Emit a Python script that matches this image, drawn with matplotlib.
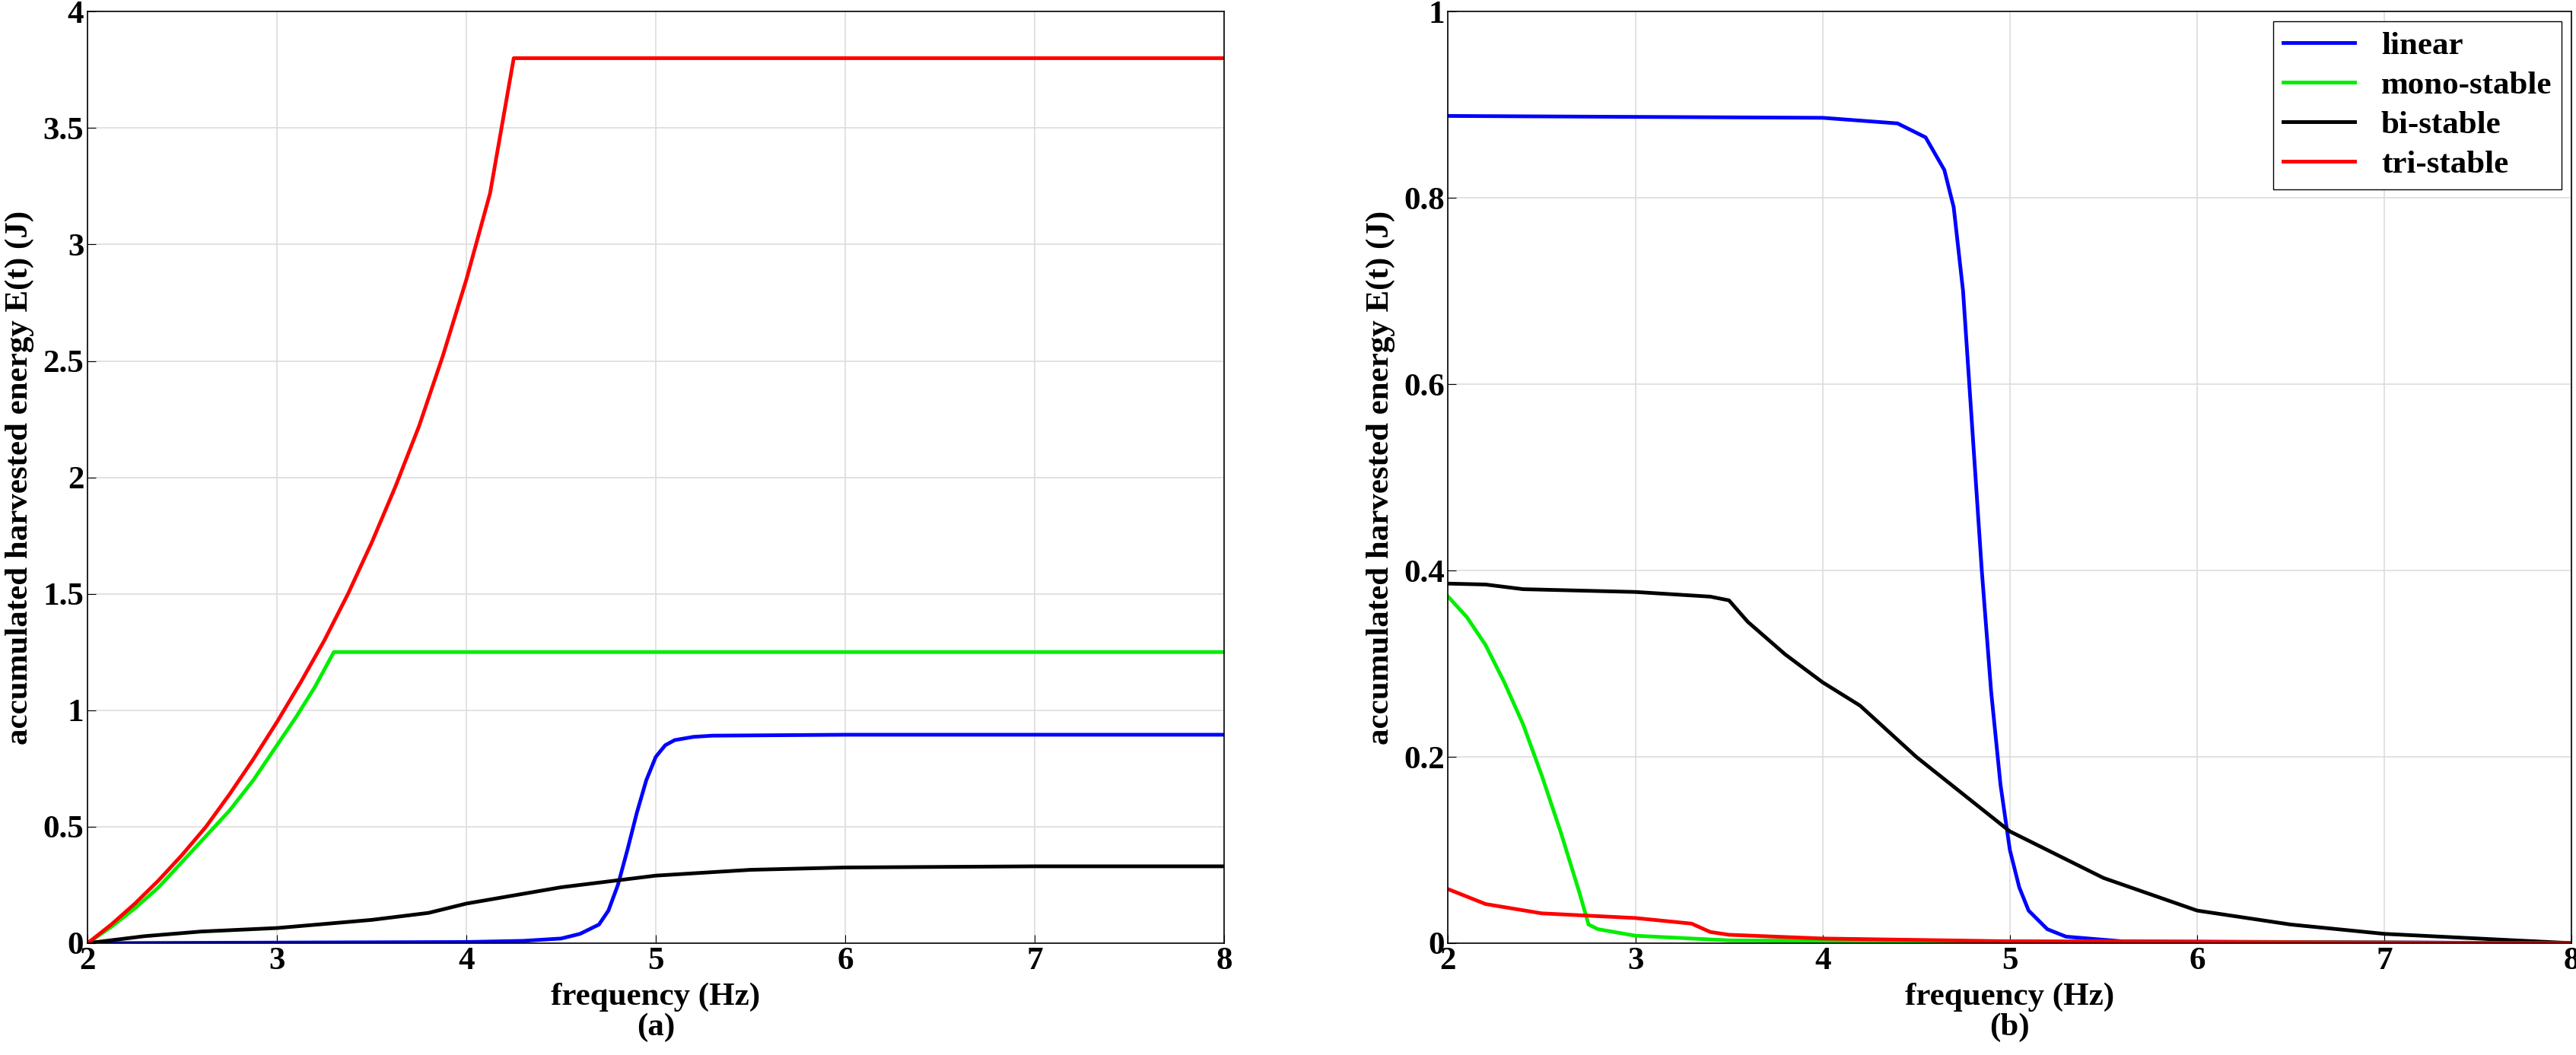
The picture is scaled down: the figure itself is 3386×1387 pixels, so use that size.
import numpy as np
import matplotlib.pyplot as plt

plt.rcParams['font.family'] = ['Liberation Serif', 'DejaVu Serif']
plt.rcParams['font.weight'] = 'bold'

# panel (a) data
fa_red = [2, 2.125, 2.25, 2.375, 2.5, 2.625, 2.75, 2.875, 3, 3.125, 3.25, 3.375, 3.5, 3.625, 3.75, 3.875, 4, 4.125, 4.25, 8]
ea_red = [0, 0.08, 0.17, 0.27, 0.38, 0.5, 0.64, 0.79, 0.95, 1.12, 1.3, 1.5, 1.72, 1.96, 2.22, 2.52, 2.85, 3.22, 3.8, 3.8]
fa_green = [2, 2.125, 2.25, 2.375, 2.5, 2.625, 2.75, 2.875, 3, 3.1, 3.2, 3.3, 8]
ea_green = [0, 0.07, 0.15, 0.24, 0.35, 0.46, 0.57, 0.7, 0.85, 0.97, 1.1, 1.25, 1.25]
fa_blue = [2, 4, 4.3, 4.5, 4.6, 4.7, 4.75, 4.8, 4.85, 4.9, 4.95, 5.0, 5.05, 5.1, 5.2, 5.3, 6, 8]
ea_blue = [0, 0.005, 0.01, 0.02, 0.04, 0.08, 0.14, 0.25, 0.4, 0.56, 0.7, 0.8, 0.85, 0.872, 0.886, 0.891, 0.895, 0.895]
fa_black = [2, 2.3, 2.6, 3, 3.5, 3.8, 4, 4.5, 5, 5.5, 6, 7, 8]
ea_black = [0, 0.03, 0.05, 0.065, 0.1, 0.13, 0.17, 0.24, 0.29, 0.315, 0.325, 0.33, 0.33]

# panel (b) data
fb_blue = [2, 4, 4.4, 4.55, 4.65, 4.7, 4.75, 4.8, 4.85, 4.9, 4.95, 5.0, 5.05, 5.1, 5.2, 5.3, 5.6, 8]
eb_blue = [0.888, 0.886, 0.88, 0.865, 0.83, 0.79, 0.7, 0.55, 0.4, 0.27, 0.17, 0.1, 0.06, 0.035, 0.015, 0.007, 0.002, 0]
fb_black = [2, 2.2, 2.4, 3, 3.4, 3.5, 3.6, 3.8, 4, 4.2, 4.5, 5, 5.5, 6, 6.5, 7, 8]
eb_black = [0.386, 0.385, 0.38, 0.377, 0.372, 0.368, 0.345, 0.31, 0.28, 0.255, 0.2, 0.12, 0.07, 0.035, 0.02, 0.01, 0]
fb_green = [2, 2.1, 2.2, 2.3, 2.4, 2.5, 2.6, 2.7, 2.75, 2.8, 3, 3.5, 8]
eb_green = [0.372, 0.35, 0.32, 0.28, 0.235, 0.18, 0.12, 0.055, 0.02, 0.015, 0.008, 0.003, 0]
fb_red = [2, 2.2, 2.5, 3, 3.3, 3.4, 3.5, 4, 5, 8]
eb_red = [0.058, 0.042, 0.032, 0.027, 0.021, 0.012, 0.009, 0.005, 0.002, 0]

fig = plt.figure(figsize=(33.87, 13.87), dpi=100)
ax1 = fig.add_axes([0.034, 0.106, 0.441, 0.883])
ax2 = fig.add_axes([0.562, 0.106, 0.436, 0.883])

lw = 3.5
ax1.plot(fa_blue, ea_blue, color='blue', lw=lw)
ax1.plot(fa_green, ea_green, color='#00ee00', lw=lw)
ax1.plot(fa_black, ea_black, color='black', lw=lw)
ax1.plot(fa_red, ea_red, color='red', lw=lw)

ax2.plot(fb_blue, eb_blue, color='blue', lw=lw, label='linear')
ax2.plot(fb_green, eb_green, color='#00ee00', lw=lw, label='mono-stable')
ax2.plot(fb_black, eb_black, color='black', lw=lw, label='bi-stable')
ax2.plot(fb_red, eb_red, color='red', lw=lw, label='tri-stable')

ax1.set_ylim(0, 4)
ax1.set_yticks(np.arange(0, 4.01, 0.5))
ax1.set_yticklabels(['0', '0.5', '1', '1.5', '2', '2.5', '3', '3.5', '4'])
ax2.set_ylim(0, 1)
ax2.set_yticks(np.arange(0, 1.01, 0.2))
ax2.set_yticklabels(['0', '0.2', '0.4', '0.6', '0.8', '1'])

fs = 31
for ax, lab in [(ax1, '(a)'), (ax2, '(b)')]:
    ax.set_xlim(2, 8)
    ax.set_xticks(range(2, 9))
    ax.grid(True, color='#dddddd', lw=1.2)
    ax.tick_params(labelsize=fs, direction='in', length=8)
    ax.set_xlabel('frequency (Hz)', fontsize=fs, fontweight='bold', labelpad=6)
    ax.set_ylabel('accumulated harvested energy E(t) (J)', fontsize=fs, fontweight='bold', labelpad=8)
    ax.text(0.5, -0.075, lab, transform=ax.transAxes, ha='center', va='top',
            fontsize=fs, fontweight='bold')
    for s in ax.spines.values():
        s.set_linewidth(1.2)

ax2.legend(loc='upper right', prop={'weight': 'bold', 'size': fs},
           fancybox=False, edgecolor='black', handlelength=2.2, borderpad=0.3,
           labelspacing=0.3, borderaxespad=0.3, framealpha=1)

fig.savefig('out.png', dpi=100)
